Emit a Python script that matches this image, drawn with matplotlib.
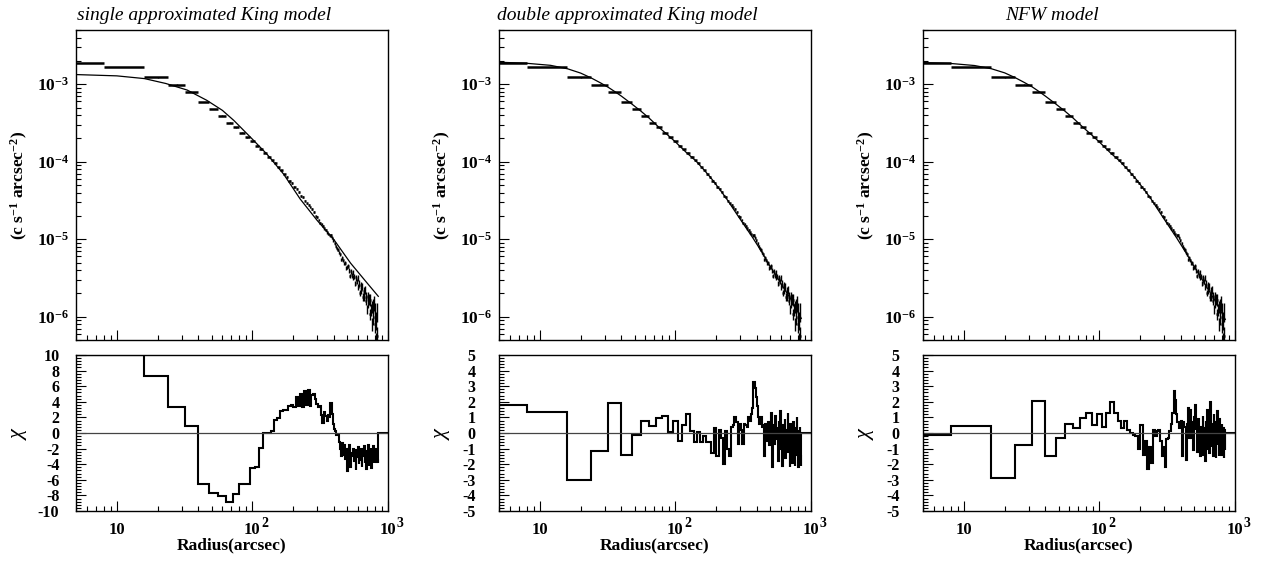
import numpy as np
import matplotlib
matplotlib.use("Agg")
import matplotlib.pyplot as plt
from matplotlib import transforms
from matplotlib.ticker import FixedLocator, FixedFormatter, NullFormatter

# ---------------- data ----------------
BIN_WIDTH = 8.0          # arcsec, radial bin width
R_MAX = 1000.0           # right end of the axis (chi = 0 beyond last bin)

# surface brightness profile (c s^-1 arcsec^-2), one value per 8" bin
profile = [
    1.90e-3, 1.66e-3, 1.23e-3, 9.9e-4, 7.96e-4, 5.9e-4, 4.8e-4, 3.9e-4, 3.2e-4, 2.77e-4, 2.37e-4, 2.06e-4,
    1.84e-4, 1.60e-4, 1.45e-4, 1.31e-4, 1.16e-4, 1.04e-4, 9.6e-5, 8.5e-5, 7.7e-5, 6.9e-5, 6.32e-5, 5.65e-5,
    5.33e-5, 4.71e-5, 4.49e-5, 4.07e-5, 3.59e-5, 3.48e-5, 3.14e-5, 2.89e-5, 2.79e-5, 2.58e-5, 2.43e-5, 2.24e-5,
    2.01e-5, 1.93e-5, 1.78e-5, 1.62e-5, 1.58e-5, 1.48e-5, 1.38e-5, 1.31e-5, 1.23e-5, 1.17e-5, 1.12e-5, 1.12e-5,
    1.05e-5, 9.67e-6, 8.92e-6, 8.15e-6, 7.6e-6, 7.31e-6, 6.72e-6, 6.35e-6, 5.46e-6, 5.72e-6, 5.35e-6, 4.86e-6,
    4.93e-6, 4.29e-6, 4.43e-6, 4.54e-6, 3.96e-6, 3.33e-6, 3.86e-6, 3.42e-6, 3.73e-6, 3.23e-6, 3.28e-6, 2.66e-6,
    3.18e-6, 2.84e-6, 3.13e-6, 2.45e-6, 2.69e-6, 2.02e-6, 2.55e-6, 2.21e-6, 2.46e-6, 1.8e-6, 2.14e-6, 1.81e-6,
    2.25e-6, 1.6e-6, 1.82e-6, 1.24e-6, 1.84e-6, 1.52e-6, 1.68e-6, 1.08e-6, 1.66e-6, 1.24e-6, 1.34e-6, 0.81e-6,
    1.39e-6, 1.0e-6, 1.5e-6, 0.81e-6, 1.22e-6, 0.49e-6, 0.91e-6, 1.18e-6, 0.57e-6, 0.33e-6,
]

# relative 1-sigma error of each bin (percent)
profile_err_pct = [
    1.2, 1.0, 1.0, 1.0, 1.0, 1.0, 1.0, 1.2, 1.2, 1.3, 1.4, 1.5,
    1.5, 1.5, 1.6, 1.6, 1.7, 1.7, 1.8, 1.8, 1.9, 1.9, 2.0, 2.0,
    2.1, 2.1, 2.2, 2.2, 2.3, 2.3, 2.4, 2.5, 2.6, 2.7, 2.8, 2.9,
    3.0, 3.1, 3.2, 3.3, 3.4, 3.5, 3.6, 3.7, 3.8, 3.9, 4.0, 4.1,
    4.2, 4.3, 4.4, 4.5, 4.6, 4.7, 4.8, 4.9, 5.0, 5.1, 5.2, 5.4,
    5.6, 5.8, 6.0, 6.2, 6.4, 6.6, 6.8, 7.0, 7.2, 7.4, 7.6, 7.8,
    8.0, 8.3, 8.6, 8.9, 9.2, 9.5, 9.8, 10.1, 10.4, 10.8, 11.2, 11.6,
    12.0, 12.5, 13.0, 13.5, 14.0, 14.6, 15.2, 15.8, 16.5, 17.2, 18.0, 19.0,
    20.0, 21.0, 22.0, 23.0, 24.0, 25.5, 27.0, 28.5, 30.0, 32.0,
]

# chi residuals per bin
chi_single = [
    10, 10, 7.3, 3.3, 0.9, -6.6, -7.7, -8.1, -8.8, -7.8, -6.6, -6.6,
    -4.5, -4.4, -1.9, 0.0, 0.0, 0.3, 1.7, 1.9, 2.8, 3.0, 3.0, 3.4,
    3.6, 3.3, 4.6, 3.4, 5.0, 3.3, 5.4, 3.6, 5.5, 3.4, 4.9, 5.0,
    4.4, 3.7, 3.3, 3.4, 2.3, 1.3, 2.7, 2.2, 1.6, 2.3, 2.0, 3.9,
    2.4, 1.2, 0.5, 0.2, -0.3, -0.3, -1.2, -2.0, -3.0, -1.3, -2.8, -1.5,
    -3.3, -2.0, -4.9, -2.0, -3.3, -1.6, -4.3, -2.5, -3.0, -2.0, -3.6, -2.4,
    -4.7, -2.2, -3.1, -1.8, -4.0, -2.7, -3.4, -2.1, -4.4, -2.6, -3.0, -1.7,
    -3.8, -2.3, -4.6, -2.8, -3.3, -1.6, -4.2, -2.4, -3.5, -1.9, -4.5, -2.2,
    -3.2, -1.7, -3.9, -2.5, -3.0, -2.0, -3.7, -2.3, -3.4, -3.8,
]
chi_double = [
    1.8, 1.35, -3.0, -1.15, 1.9, -1.4, -0.15, 0.75, 0.45, 0.95, 1.1, 0.05,
    0.75, -0.5, 0.5, 1.2, 0.1, -0.55, 0.05, -0.55, -0.2, -0.6, -0.6, -1.3,
    0.3, -1.5, 0.2, -0.3, -2.0, 0.1, -1.0, -1.5, 0.4, 0.5, 1.0, 0.7,
    -0.7, 0.6, 0.2, -0.7, 0.6, 0.5, 0.4, 1.0, 0.8, 1.2, 1.6, 3.3,
    2.9, 2.3, 1.7, 1.0, 0.6, 1.0, 0.4, 0.5, -1.5, 0.6, 0.2, -0.5,
    0.7, -0.8, 0.1, 1.3, -0.3, -2.2, 0.5, -0.7, 1.1, -0.4, 0.3, -1.8,
    0.8, -0.2, 1.4, -1.0, 0.4, -2.1, 0.5, -0.6, 0.9, -1.6, 0.2, -0.9,
    1.3, -1.2, 0.0, -2.2, 0.6, -0.5, 0.4, -1.9, 0.7, -0.8, -0.2, -2.1,
    0.3, -1.0, 1.0, -1.4, 0.2, -2.2, -0.6, 0.4, -1.5, -2.1,
]
chi_nfw = [
    -0.15, 0.45, -2.9, -0.8, 2.05, -1.45, -0.35, 0.55, 0.35, 0.95, 1.3, 0.5,
    1.2, 0.4, 1.3, 2.0, 1.3, 0.8, 0.3, 0.8, 0.2, 0.0, -0.1, -0.2,
    -1.0, 0.5, -1.4, -0.5, -2.3, -0.9, -1.9, 0.2, -0.2, 0.1, 0.2, -0.5,
    -1.5, -0.9, -2.2, -0.4, -0.3, 0.1, 0.6, 1.3, 2.7, 2.1, 1.2, 0.7,
    0.3, 0.6, 0.8, -1.5, 0.7, 0.4, -1.7, 0.6, 1.6, -0.3, 1.5, -0.3,
    0.7, -1.1, 1.0, 1.8, 0.2, 0.5, -1.2, 0.9, -0.5, -1.5, 0.4, -1.4,
    1.1, -0.6, 0.3, -1.8, 0.8, -0.2, 1.5, -1.0, 0.5, -1.3, 2.0, 0.1,
    -0.9, 0.6, -1.5, 1.2, -0.4, 0.7, -1.6, 0.3, 1.4, -0.8, 0.5, -1.5,
    0.9, -0.3, 0.2, -1.4, 0.6, -0.7, 0.3, -1.6, 0.2, -1.1,
]

# best-fit model curves (radius in arcsec, brightness)
model_single_r = [5, 10, 16, 23, 33, 46, 60, 73, 100, 128, 170, 225, 300, 400, 530, 700, 848]
model_single = [1.33e-3, 1.28e-3, 1.18e-3, 1.02e-3, 8.4e-4, 6.2e-4, 4.6e-4, 3.4e-4, 1.95e-4,
                1.25e-4, 6.9e-5, 3.3e-5, 1.75e-5, 9.8e-6, 4.9e-6, 2.73e-6, 1.83e-6]
model_double_r = [5, 8, 12, 16, 20, 24, 28, 32, 36, 40, 48, 56, 64, 76, 88, 100, 120, 141, 165,
                  188, 235, 295, 371, 430, 493, 570, 655, 740, 822, 848]
model_double = [1.92e-3, 1.86e-3, 1.75e-3, 1.58e-3, 1.39e-3, 1.20e-3, 1.04e-3, 9.1e-4, 7.95e-4,
                7.0e-4, 5.5e-4, 4.45e-4, 3.65e-4, 2.75e-4, 2.2e-4, 1.8e-4, 1.32e-4, 1.03e-4, 7.6e-5,
                5.8e-5, 3.45e-5, 1.9e-5, 1.05e-5, 7.0e-6, 4.6e-6, 3.1e-6, 2.1e-6, 1.5e-6, 1.05e-6, 0.95e-6]
model_nfw_r = [5, 8, 12, 16, 20, 24, 28, 32, 36, 40, 48, 56, 64, 76, 88, 100, 120, 141, 165,
               188, 235, 295, 371, 430, 493, 570, 655, 740, 822, 848]
model_nfw = [1.90e-3, 1.85e-3, 1.74e-3, 1.58e-3, 1.40e-3, 1.21e-3, 1.05e-3, 9.2e-4, 8.0e-4,
             7.0e-4, 5.5e-4, 4.45e-4, 3.65e-4, 2.76e-4, 2.2e-4, 1.79e-4, 1.31e-4, 1.02e-4, 7.6e-5,
             5.85e-5, 3.5e-5, 1.9e-5, 1.04e-5, 6.9e-6, 4.6e-6, 3.05e-6, 2.05e-6, 1.45e-6, 1.02e-6, 0.92e-6]

titles = ["single approximated King model", "double approximated King model", "NFW model"]
title_x_px = [77, 497, 1005]

x_tick_values = [10, 100, 1000]
x_tick_base = ["10", "10", "10"]
x_tick_exp = ["", "2", "3"]
y_tick_values = [1e-3, 1e-4, 1e-5, 1e-6]
y_tick_labels = [r"$\mathbf{10^{-3}}$", r"$\mathbf{10^{-4}}$", r"$\mathbf{10^{-5}}$", r"$\mathbf{10^{-6}}$"]
chi_ticks_single = [10, 8, 6, 4, 2, 0, -2, -4, -6, -8, -10]
chi_ticks_other = [5, 4, 3, 2, 1, 0, -1, -2, -3, -4, -5]

# ---------------- style ----------------
plt.rcParams["font.family"] = ["Liberation Serif", "DejaVu Serif"]
plt.rcParams["mathtext.fontset"] = "custom"
plt.rcParams["mathtext.rm"] = "Liberation Serif:bold"
plt.rcParams["mathtext.bf"] = "Liberation Serif:bold"
plt.rcParams["mathtext.it"] = "Liberation Serif:italic"
plt.rcParams["axes.linewidth"] = 1.0

W, H = 1262, 563
fig = plt.figure(figsize=(W / 100, H / 100), dpi=100)


def px_axes(l, t, r, b):
    return fig.add_axes([l / W, 1 - b / H, (r - l) / W, (b - t) / H])


lefts = [76, 499, 923]
AX_W = 312
chi_label_pad = [12, 17, 17]

n = len(profile)
edges = BIN_WIDTH * np.arange(n + 1)
centers = edges[:-1] + BIN_WIDTH / 2
prof = np.array(profile)
yerr = prof * np.array(profile_err_pct) / 100.0

models = [(model_single_r, model_single), (model_double_r, model_double), (model_nfw_r, model_nfw)]
chis = [chi_single, chi_double, chi_nfw]

x_minor = [v * 10 ** k for k in range(0, 3) for v in range(2, 10) if 5 <= v * 10 ** k <= 1000]
y_minor = [v * 10.0 ** k for k in range(-7, -2) for v in range(2, 10) if 5e-7 <= v * 10.0 ** k <= 5e-3]

bold = dict(fontweight="bold", family="Liberation Serif")

for i in range(3):
    L = lefts[i]
    # --- profile panel
    ax = px_axes(L, 30, L + AX_W, 340)
    ax.set_xscale("log")
    ax.set_yscale("log")
    ax.set_xlim(5, R_MAX)
    ax.set_ylim(5e-7, 5e-3)
    ax.errorbar(centers, prof, xerr=BIN_WIDTH / 2, fmt="none",
                ecolor="black", elinewidth=1.8, capsize=0)
    ax.errorbar(centers, prof, yerr=yerr, fmt="none",
                ecolor="black", elinewidth=1.0, capsize=0)
    mr, mv = models[i]
    ax.plot(mr, mv, color="black", lw=0.9)
    ax.xaxis.set_major_locator(FixedLocator(x_tick_values))
    ax.xaxis.set_minor_locator(FixedLocator(x_minor))
    ax.xaxis.set_major_formatter(NullFormatter())
    ax.xaxis.set_minor_formatter(NullFormatter())
    ax.yaxis.set_major_locator(FixedLocator(y_tick_values))
    ax.yaxis.set_major_formatter(FixedFormatter(y_tick_labels))
    ax.yaxis.set_minor_locator(FixedLocator(y_minor))
    ax.yaxis.set_minor_formatter(NullFormatter())
    ax.tick_params(which="both", direction="in", top=False, right=False, width=0.8)
    ax.tick_params(which="major", length=7, labelsize=12.5, pad=5)
    ax.tick_params(which="minor", length=3.5)
    ax.set_ylabel(r"$\mathbf{(c\ s^{-1}\ arcsec^{-2})}$", fontsize=12.5)
    ax.yaxis.set_label_coords(-0.18, 0.5)
    ax.yaxis.label.set_va("center")
    fig.text(title_x_px[i] / W, 1 - 15 / H, titles[i], fontsize=14, style="italic",
             family="Liberation Serif", ha="left", va="center")

    # --- chi panel
    cx = px_axes(L, 355, L + AX_W, 511)
    cx.set_xscale("log")
    cx.set_xlim(5, R_MAX)
    ticks = chi_ticks_single if i == 0 else chi_ticks_other
    cx.set_ylim(min(ticks), max(ticks))
    cx.axhline(0, color="#444444", lw=0.9)
    cx.stairs(list(chis[i]) + [0.0], list(edges) + [R_MAX], baseline=None,
              color="black", lw=1.5)
    cx.xaxis.set_major_locator(FixedLocator(x_tick_values))
    cx.xaxis.set_major_formatter(NullFormatter())
    cx.xaxis.set_minor_locator(FixedLocator(x_minor))
    cx.xaxis.set_minor_formatter(NullFormatter())
    cx.yaxis.set_major_locator(FixedLocator(ticks))
    cx.yaxis.set_major_formatter(FixedFormatter([str(t) for t in ticks]))
    step = abs(ticks[0] - ticks[1])
    cx.yaxis.set_minor_locator(FixedLocator(
        [min(ticks) + k * step / 5 for k in range(int(round((max(ticks) - min(ticks)) / step * 5)) + 1)]))
    cx.tick_params(which="both", direction="in", top=False, right=False, width=0.8)
    cx.tick_params(which="major", length=7, labelsize=11.5)
    cx.tick_params(axis="y", which="major", pad=chi_label_pad[i])
    cx.tick_params(which="minor", length=3.5)
    for lab in cx.get_yticklabels():
        lab.set_fontweight("bold")
    # x tick labels: "10" centred on the tick, exponent raised to its right
    trans = transforms.blended_transform_factory(cx.transData, cx.transAxes)
    sup_trans = transforms.offset_copy(trans, fig=fig, x=9, y=7, units="dots")
    for xv, base, ex in zip(x_tick_values, x_tick_base, x_tick_exp):
        cx.text(xv, -0.148, base, transform=trans, ha="center", va="baseline",
                fontsize=12, **bold)
        if ex:
            cx.text(xv, -0.148, ex, transform=sup_trans, ha="left", va="baseline",
                    fontsize=10, **bold)
    cx.set_ylabel(r"$\chi$", fontsize=16, rotation=90)
    cx.yaxis.set_label_coords(-0.18, 0.5)
    cx.yaxis.label.set_va("center")
    cx.set_xlabel("Radius(arcsec)", fontsize=12.5, **bold)
    cx.xaxis.set_label_coords(0.5, -0.222)
    cx.xaxis.label.set_va("center")

fig.savefig("out.png", dpi=100)
